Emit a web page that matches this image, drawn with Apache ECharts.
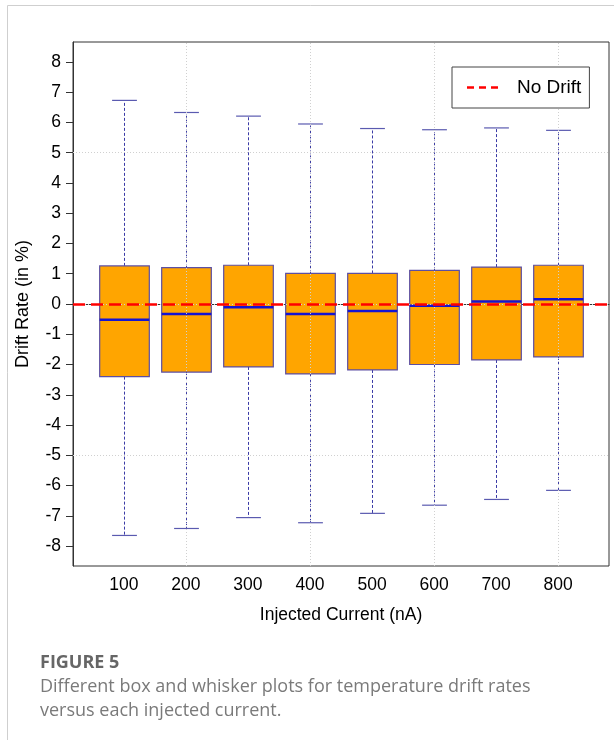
<!DOCTYPE html>
<html>
<head>
<meta charset="utf-8">
<script src="https://cdn.jsdelivr.net/npm/echarts@6/dist/echarts.min.js"></script>
<style>
html,body{margin:0;padding:0;background:#fff;}
#chart{width:614px;height:745px;}
</style>
</head>
<body>
<div id="chart"></div>
<script>
// ---- data ----
const categories = ['100', '200', '300', '400', '500', '600', '700', '800'];
const xPositions = [100, 200, 300, 400, 500, 600, 700, 800];
const lowWhisker = [-7.65, -7.42, -7.06, -7.23, -6.92, -6.65, -6.46, -6.16];
const q1 = [-2.40, -2.25, -2.08, -2.31, -2.18, -2.00, -1.85, -1.75];
const median = [-0.52, -0.33, -0.11, -0.33, -0.23, -0.06, 0.08, 0.16];
const q3 = [1.26, 1.20, 1.28, 1.01, 1.01, 1.11, 1.22, 1.28];
const highWhisker = [6.73, 6.33, 6.21, 5.95, 5.80, 5.76, 5.82, 5.74];
const yTicks = [-8, -7, -6, -5, -4, -3, -2, -1, 0, 1, 2, 3, 4, 5, 6, 7, 8];
const gridX = [200, 400, 600, 800];
const gridY = [-5, 0, 5];
const noDriftLevel = 0;
const seriesName = 'No Drift';

const boxRows = xPositions.map((x, i) => [x, lowWhisker[i], q1[i], median[i], q3[i], highWhisker[i]]);

const FONT = '"Liberation Sans", Arial, sans-serif';
const CAPFONT = '"Open Sans", Lato, sans-serif';
const BOX_UNITS = 80;

const chart = echarts.init(document.getElementById('chart'));
chart.setOption({
  animation: false,
  backgroundColor: '#fff',
  grid: { left: 73, right: 5, top: 42, bottom: 179, show: true, borderColor: '#333', borderWidth: 1, backgroundColor: 'transparent' },
  legend: {
    data: [seriesName],
    left: 452, top: 67, z: 10,
    padding: [11, 8, 11, 15],
    backgroundColor: '#fff',
    borderColor: '#444', borderWidth: 1,
    icon: 'path://M0,0h7v2.5h-7z M12,0h7v2.5h-7z M24,0h7v2.5h-7z',
    itemWidth: 31, itemHeight: 2.5,
    textStyle: { fontFamily: FONT, fontSize: 19, color: '#000', padding: [0, 0, 0, 14] }
  },
  xAxis: {
    type: 'value', min: 18, max: 882,
    name: 'Injected Current (nA)', nameLocation: 'middle', nameGap: 40,
    nameTextStyle: { fontFamily: FONT, fontSize: 17.5, color: '#000' },
    axisLine: { show: true, lineStyle: { color: '#333', width: 1 } },
    axisTick: { show: true, length: 7, customValues: xPositions, lineStyle: { color: '#333' } },
    axisLabel: { customValues: xPositions, margin: 10, fontFamily: FONT, fontSize: 17.5, color: '#000',
      formatter: v => categories[xPositions.indexOf(v)] },
    splitLine: { show: false }
  },
  yAxis: {
    type: 'value', min: -8.66, max: 8.66,
    name: 'Drift Rate (in %)', nameLocation: 'middle', nameGap: 41,
    nameTextStyle: { fontFamily: FONT, fontSize: 18, color: '#000' },
    axisLine: { show: true, lineStyle: { color: '#333', width: 1 } },
    axisTick: { show: true, length: 7, customValues: yTicks, lineStyle: { color: '#333' } },
    axisLabel: { customValues: yTicks, margin: 12, fontFamily: FONT, fontSize: 17.5, color: '#000' },
    splitLine: { show: false }
  },
  series: [
    {
      type: 'custom',
      name: 'boxes',
      z: 2,
      data: boxRows,
      encode: { x: 0, y: [1, 2, 3, 4, 5] },
      renderItem: function (params, api) {
        const x = api.value(0);
        const pLo = api.coord([x, api.value(1)]);
        const pQ1 = api.coord([x, api.value(2)]);
        const pMed = api.coord([x, api.value(3)]);
        const pQ3 = api.coord([x, api.value(4)]);
        const pHi = api.coord([x, api.value(5)]);
        const bw = api.size([BOX_UNITS, 0])[0];
        const cw = bw / 2;
        const cx = Math.round(pMed[0]) + 0.5;
        const whiskerStyle = { stroke: '#3b3ba6', lineWidth: 1, lineDash: [3, 2] };
        const capStyle = { stroke: '#5a5ab0', lineWidth: 1.2 };
        return {
          type: 'group',
          children: [
            { type: 'line', shape: { x1: cx, y1: pQ3[1], x2: cx, y2: pHi[1] }, style: whiskerStyle },
            { type: 'line', shape: { x1: cx, y1: pQ1[1], x2: cx, y2: pLo[1] }, style: whiskerStyle },
            { type: 'line', shape: { x1: cx - cw / 2, y1: pHi[1], x2: cx + cw / 2, y2: pHi[1] }, style: capStyle },
            { type: 'line', shape: { x1: cx - cw / 2, y1: pLo[1], x2: cx + cw / 2, y2: pLo[1] }, style: capStyle },
            { type: 'rect', shape: { x: cx - bw / 2, y: pQ3[1], width: bw, height: pQ1[1] - pQ3[1] },
              style: { fill: '#FFA500', stroke: '#5c4fa3', lineWidth: 1.2 } },
            { type: 'line', shape: { x1: cx - bw / 2, y1: pMed[1], x2: cx + bw / 2, y2: pMed[1] },
              style: { stroke: '#1414d2', lineWidth: 2.5 } }
          ]
        };
      }
    },
    {
      type: 'line',
      name: 'gridlines',
      z: 3,
      data: [],
      silent: true,
      markLine: {
        silent: true, symbol: ['none', 'none'], label: { show: false },
        lineStyle: { color: '#d0d0d0', type: [1, 2], width: 1 },
        data: gridX.map(v => ({ xAxis: v })).concat(gridY.map(v => ({ yAxis: v })))
      }
    },
    {
      type: 'line',
      name: seriesName,
      z: 4,
      data: [],
      symbol: 'none',
      color: '#ff0000',
      itemStyle: { color: '#ff0000' },
      lineStyle: { color: '#ff0000', width: 2.5, type: [12, 6] },
      markLine: {
        silent: true, symbol: ['none', 'none'], label: { show: false },
        lineStyle: { color: '#ff0000', width: 2.5, type: [12, 6] },
        data: [{ yAxis: noDriftLevel }]
      }
    }
  ],
  graphic: [
    { type: 'line', silent: true, shape: { x1: 7.5, y1: 5.5, x2: 614, y2: 5.5 }, style: { stroke: '#cfcfcf', lineWidth: 1 } },
    { type: 'line', silent: true, shape: { x1: 7.5, y1: 5.5, x2: 7.5, y2: 740 }, style: { stroke: '#cfcfcf', lineWidth: 1 } },
    { type: 'text', left: 40, top: 654, style: { text: 'FIGURE 5', fontFamily: CAPFONT, fontWeight: 'bold', fontSize: 18, fill: '#666' } },
    { type: 'text', left: 40, top: 678, style: { text: 'Different box and whisker plots for temperature drift rates', fontFamily: CAPFONT, fontSize: 18, fill: '#7a7a7a' } },
    { type: 'text', left: 40, top: 702, style: { text: 'versus each injected current.', fontFamily: CAPFONT, fontSize: 18, fill: '#7a7a7a' } }
  ]
});
</script>
</body>
</html>
